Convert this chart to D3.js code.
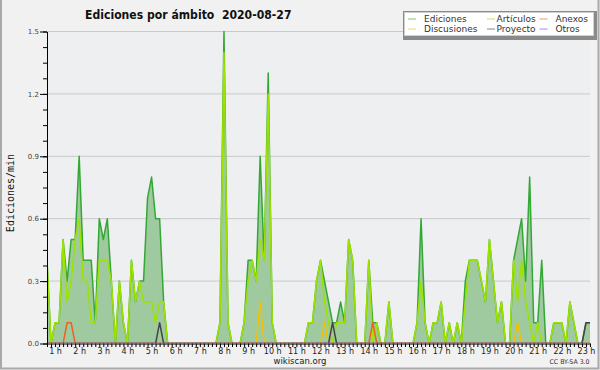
<!DOCTYPE html>
<html>
<head>
<meta charset="utf-8">
<script src="https://cdn.jsdelivr.net/npm/d3@7"></script>
<style>
  body { margin: 0; background: #fff; }
  svg text { font-family: "DejaVu Sans", sans-serif; }
</style>
</head>
<body>
<div id="wrapper"></div>
<script>
// 10-minute buckets, first one at 0:40
const startMinute = 40
const stepMinutes = 10

const titleText = 'Ediciones por ámbito  2020-08-27'
const hourTicks = [1, 2, 3, 4, 5, 6, 7, 8, 9, 10, 11, 12, 13, 14, 15, 16, 17, 18, 19, 20, 21, 22, 23]
const hourLabels = hourTicks.map(h => h + ' h')
const yTicks = [0, 0.3, 0.6, 0.9, 1.2, 1.5]
const yTickLabels = ['0.0', '0.3', '0.6', '0.9', '1.2', '1.5']

const ediciones = [
    0.4, 0, 0.1, 0.1, 0.5, 0.3, 0.5, 0.5, 0.9, 0.4,
    0.4, 0.4, 0.1, 0.6, 0.5, 0.6, 0.3, 0, 0.3, 0.1,
    0, 0.4, 0.2, 0.3, 0.3, 0.7, 0.8, 0.6, 0.6, 0.2,
    0, 0, 0, 0, 0, 0, 0, 0, 0, 0,
    0, 0, 0, 0.1, 1.5, 0.1, 0, 0, 0, 0.1,
    0.4, 0.4, 0.3, 0.9, 0.4, 1.3, 0.1, 0, 0, 0,
    0, 0, 0, 0, 0, 0.1, 0.1, 0.3, 0.4, 0.3,
    0.2, 0.1, 0.1, 0.2, 0.1, 0.5, 0.4, 0, 0, 0,
    0.4, 0.1, 0.1, 0, 0, 0.2, 0, 0, 0, 0,
    0, 0, 0.1, 0.6, 0.1, 0, 0.1, 0.1, 0.2, 0,
    0.1, 0, 0.1, 0, 0.3, 0.4, 0.4, 0.4, 0.3, 0.2,
    0.5, 0.3, 0.1, 0.2, 0, 0, 0.4, 0.5, 0.6, 0.3,
    0.8, 0.1, 0.1, 0.4, 0, 0, 0.1, 0.1, 0.1, 0,
    0.2, 0.1, 0, 0, 0.1, 0.1
]
const articulos = [
    0.4, 0, 0.1, 0.1, 0.5, 0.2, 0.3, 0.5, 0.6, 0.3,
    0.3, 0.1, 0.1, 0.4, 0.4, 0.4, 0.3, 0, 0.3, 0.1,
    0, 0.4, 0.2, 0.3, 0.2, 0.2, 0.2, 0.1, 0.2, 0.2,
    0, 0, 0, 0, 0, 0, 0, 0, 0, 0,
    0, 0, 0, 0.1, 1.4, 0.1, 0, 0, 0, 0.1,
    0.3, 0.4, 0.3, 0.5, 0.4, 1.2, 0.1, 0, 0, 0,
    0, 0, 0, 0, 0, 0.1, 0.1, 0.3, 0.4, 0.2,
    0.1, 0, 0.1, 0.1, 0.1, 0.5, 0.4, 0, 0, 0,
    0.4, 0, 0.1, 0, 0, 0.2, 0, 0, 0, 0,
    0, 0, 0.1, 0.3, 0.1, 0, 0.1, 0.1, 0.2, 0,
    0.1, 0, 0.1, 0, 0.2, 0.4, 0.4, 0.4, 0.3, 0.2,
    0.5, 0.3, 0.1, 0.2, 0, 0, 0.4, 0.2, 0.4, 0.2,
    0.1, 0, 0.1, 0, 0, 0, 0.1, 0.1, 0.1, 0,
    0.2, 0.1, 0, 0, 0, 0
]
const anexos = [
    0, 0, 0, 0, 0, 0.1, 0.1, 0, 0, 0,
    0, 0, 0, 0, 0, 0, 0, 0, 0, 0,
    0, 0, 0, 0, 0, 0, 0, 0, 0, 0,
    0, 0, 0, 0, 0, 0, 0, 0, 0, 0,
    0, 0, 0, 0, 0, 0, 0, 0, 0, 0,
    0, 0, 0, 0, 0, 0, 0, 0, 0, 0,
    0, 0, 0, 0, 0, 0, 0, 0, 0, 0,
    0, 0, 0, 0, 0, 0, 0, 0, 0, 0,
    0, 0.1, 0, 0, 0, 0, 0, 0, 0, 0,
    0, 0, 0, 0, 0, 0, 0, 0, 0, 0,
    0, 0, 0, 0, 0, 0, 0, 0, 0, 0,
    0, 0, 0, 0, 0, 0, 0, 0, 0, 0,
    0, 0, 0, 0, 0, 0, 0, 0, 0, 0,
    0, 0, 0, 0, 0, 0
]
const discusiones = [
    0, 0, 0, 0, 0, 0, 0, 0, 0, 0,
    0, 0, 0, 0, 0, 0, 0, 0, 0, 0,
    0, 0, 0, 0, 0, 0, 0, 0, 0, 0,
    0, 0, 0, 0, 0, 0, 0, 0, 0, 0,
    0, 0, 0, 0, 0, 0, 0, 0, 0, 0,
    0, 0, 0, 0.2, 0, 0, 0, 0, 0, 0,
    0, 0, 0, 0, 0, 0, 0, 0, 0, 0.1,
    0, 0, 0, 0, 0, 0, 0, 0, 0, 0,
    0, 0, 0, 0, 0, 0, 0, 0, 0, 0,
    0, 0, 0, 0, 0, 0, 0, 0, 0, 0,
    0, 0, 0, 0, 0, 0, 0, 0, 0, 0,
    0, 0, 0, 0, 0, 0, 0, 0.1, 0, 0,
    0, 0, 0, 0, 0, 0, 0, 0, 0, 0,
    0, 0, 0, 0, 0, 0
]
const proyecto = [
    0, 0, 0, 0, 0, 0, 0, 0, 0, 0,
    0, 0, 0, 0, 0, 0, 0, 0, 0, 0,
    0, 0, 0, 0, 0, 0, 0, 0, 0.1, 0,
    0, 0, 0, 0, 0, 0, 0, 0, 0, 0,
    0, 0, 0, 0, 0, 0, 0, 0, 0, 0,
    0, 0, 0, 0, 0, 0, 0, 0, 0, 0,
    0, 0, 0, 0, 0, 0, 0, 0, 0, 0,
    0, 0.1, 0, 0, 0, 0, 0, 0, 0, 0,
    0, 0, 0, 0, 0, 0, 0, 0, 0, 0,
    0, 0, 0, 0, 0, 0, 0, 0, 0, 0,
    0, 0, 0, 0, 0, 0, 0, 0, 0, 0,
    0, 0, 0, 0, 0, 0, 0, 0, 0, 0,
    0, 0, 0, 0, 0, 0, 0, 0, 0, 0,
    0, 0, 0, 0, 0.1, 0.1
]
const otros = [
    0, 0, 0, 0, 0, 0, 0, 0, 0, 0,
    0, 0, 0, 0, 0, 0, 0, 0, 0, 0,
    0, 0, 0, 0, 0, 0, 0, 0, 0, 0,
    0, 0, 0, 0, 0, 0, 0, 0, 0, 0,
    0, 0, 0, 0, 0, 0, 0, 0, 0, 0,
    0, 0, 0, 0, 0, 0, 0, 0, 0, 0,
    0, 0, 0, 0, 0, 0, 0, 0, 0, 0,
    0, 0, 0, 0, 0, 0, 0, 0, 0, 0,
    0, 0, 0, 0, 0, 0, 0, 0, 0, 0,
    0, 0, 0, 0, 0, 0, 0, 0, 0, 0,
    0, 0, 0, 0, 0, 0, 0, 0, 0, 0,
    0, 0, 0, 0, 0, 0, 0, 0, 0, 0,
    0, 0, 0, 0, 0, 0, 0, 0, 0, 0,
    0, 0, 0, 0, 0, 0
]

const series = [
    { name: 'Ediciones', values: ediciones, color: '#34a834' },
    { name: 'Artículos', values: articulos, color: '#9ee200' },
    { name: 'Discusiones', values: discusiones, color: '#f2c200' },
    { name: 'Anexos', values: anexos, color: '#ee6020' },
    { name: 'Proyecto', values: proyecto, color: '#444444' },
    { name: 'Otros', values: otros, color: '#8844ee' }
]
const legendOrder = ['Ediciones', 'Artículos', 'Anexos', 'Discusiones', 'Proyecto', 'Otros']

function drawChart() {
    const width = 600
    const height = 370
    const plot = { left: 47, right: 590, top: 31.5, bottom: 343.5 }
    const times = ediciones.map((d, i) => startMinute + i * stepMinutes)

    const svg = d3.select('#wrapper').append('svg')
        .attr('width', width)
        .attr('height', height)

    svg.append('rect').attr('width', width).attr('height', height).attr('fill', '#f1f1f1')
    // frame
    svg.append('path')
        .attr('d', `M1,0 V368.5 H598.5 V0`)
        .attr('fill', 'none')
        .attr('stroke', '#a9a9a9')
        .attr('stroke-width', 2)

    const xScale = d3.scaleLinear()
        .domain([startMinute, times[times.length - 1]])
        .range([plot.left, plot.right])
    const yScale = d3.scaleLinear()
        .domain([0, 1.5])
        .range([plot.bottom, plot.top])

    svg.append('rect')
        .attr('x', plot.left).attr('y', plot.top)
        .attr('width', plot.right - plot.left).attr('height', plot.bottom - plot.top)
        .attr('fill', '#edeff1')

    svg.append('g').selectAll('line')
        .data(yTicks.slice(1))
        .join('line')
        .attr('x1', plot.left).attr('x2', plot.right)
        .attr('y1', d => yScale(d)).attr('y2', d => yScale(d))
        .attr('stroke', '#c9c9c9')

    svg.append('clipPath').attr('id', 'clip')
        .append('rect')
        .attr('x', plot.left).attr('y', 20)
        .attr('width', plot.right - plot.left).attr('height', plot.bottom - 20 - 0.6)

    const bounds = svg.append('g').attr('clip-path', 'url(#clip)')

    const area = d3.area()
        .x((d, i) => xScale(times[i]))
        .y0(yScale(0))
        .y1(d => yScale(d))
    bounds.append('path')
        .datum(ediciones)
        .attr('d', area)
        .attr('fill', '#9fca9f')

    const line = d3.line()
        .x((d, i) => xScale(times[i]))
        .y(d => yScale(d))
    bounds.selectAll('.serie')
        .data(series)
        .join('path')
        .attr('class', 'serie')
        .attr('d', d => line(d.values))
        .attr('fill', 'none')
        .attr('stroke', d => d.color)
        .attr('stroke-width', 1.5)
        .attr('stroke-linejoin', 'round')

    // x axis: 10 minute ticks + hour labels
    const minorX = d3.axisBottom(xScale)
        .tickValues(times)
        .tickSize(3.5)
        .tickSizeOuter(0)
        .tickFormat('')
    const gx = svg.append('g')
        .attr('transform', `translate(0, ${plot.bottom})`)
        .call(minorX)
    gx.selectAll('line').attr('stroke', '#000')
    gx.select('.domain').attr('stroke', '#000')

    const labelX = d3.axisBottom(xScale)
        .tickValues(hourTicks.map(h => h * 60))
        .tickSize(0)
        .tickPadding(4.5)
        .tickFormat((d, i) => hourLabels[i])
    const gxl = svg.append('g')
        .attr('transform', `translate(0, ${plot.bottom})`)
        .call(labelX)
    gxl.select('.domain').remove()
    gxl.selectAll('text')
        .attr('font-family', '"DejaVu Sans", sans-serif')
        .attr('font-size', 8)
        .attr('fill', '#222')

    // y axis
    const minorY = d3.axisLeft(yScale)
        .tickValues(d3.range(0, 1.5001, 0.075))
        .tickSize(4)
        .tickSizeOuter(0)
        .tickFormat('')
    const gym = svg.append('g')
        .attr('transform', `translate(${plot.left}, 0)`)
        .call(minorY)
    gym.select('.domain').attr('stroke', '#000')

    const majorY = d3.axisLeft(yScale)
        .tickValues(yTicks)
        .tickSize(7)
        .tickPadding(1)
        .tickFormat((d, i) => yTickLabels[i])
    const gy = svg.append('g')
        .attr('transform', `translate(${plot.left}, 0)`)
        .call(majorY)
    gy.select('.domain').remove()
    gy.selectAll('text')
        .attr('font-family', '"DejaVu Sans", sans-serif')
        .attr('font-size', 7)
        .attr('fill', '#444')

    svg.append('text')
        .attr('transform', 'translate(14, 193) rotate(-90)')
        .attr('text-anchor', 'middle')
        .style('font-family', '"DejaVu Sans Mono", monospace')
        .style('font-size', '10px')
        .attr('fill', '#111')
        .text('Ediciones/min')

    // title (one text, two spaces kept)
    svg.append('text')
        .attr('x', 85).attr('y', 18.5)
        .attr('textLength', 206.5).attr('lengthAdjust', 'spacingAndGlyphs')
        .style('font-size', '12.5px').style('font-weight', 'bold')
        .style('white-space', 'pre')
        .attr('fill', '#111')
        .text(titleText)

    svg.append('text')
        .attr('x', 300).attr('y', 364)
        .attr('text-anchor', 'middle')
        .style('font-size', '8.5px')
        .attr('fill', '#222')
        .text('wikiscan.org')
    svg.append('text')
        .attr('x', 549.5).attr('y', 364)
        .attr('textLength', 40).attr('lengthAdjust', 'spacingAndGlyphs')
        .style('font-size', '6.5px')
        .attr('fill', '#333')
        .text('CC BY-SA 3.0')

    // legend
    const legend = svg.append('g')
    legend.append('rect')
        .attr('x', 403).attr('y', 11).attr('width', 194).attr('height', 29)
        .attr('fill', '#8a8a8a')
    legend.append('rect')
        .attr('x', 404.5).attr('y', 12.5).attr('width', 189).attr('height', 23)
        .attr('fill', '#fff').attr('stroke', '#cfcfcf')

    const colSwatch = [408, 487, 539.5]
    const colText = [424, 496.5, 555.5]
    const rowY = [19, 29]
    const items = legend.selectAll('.item')
        .data(legendOrder)
        .join('g')
        .attr('class', 'item')
        .attr('transform', (d, i) => `translate(0, ${rowY[Math.floor(i / 3)]})`)
    items.append('line')
        .attr('x1', (d, i) => colSwatch[i % 3])
        .attr('x2', (d, i) => colSwatch[i % 3] + 8)
        .attr('stroke', d => series.find(s => s.name === d).color)
        .attr('stroke-opacity', 0.65)
    items.append('text')
        .attr('x', (d, i) => colText[i % 3])
        .attr('y', 3.3)
        .style('font-size', '9px')
        .attr('fill', '#333')
        .text(d => d)
}

drawChart()
</script>
</body>
</html>
